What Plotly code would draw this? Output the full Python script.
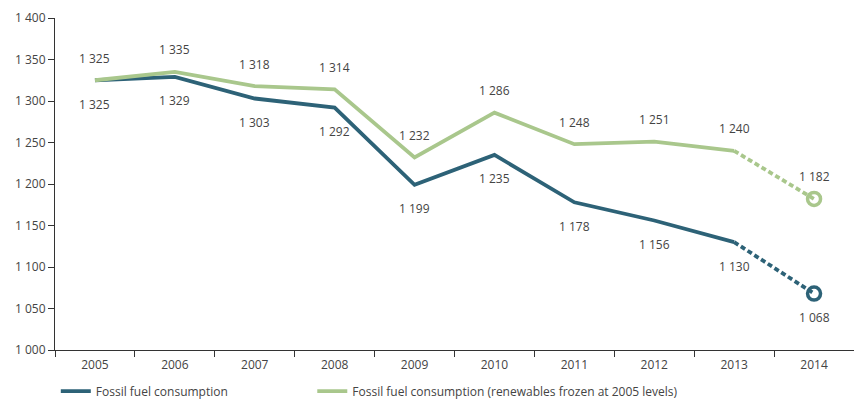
import plotly.graph_objects as go

# Fossil fuel consumption series (2014 values are estimates, drawn dashed)
years = ["2005", "2006", "2007", "2008", "2009", "2010", "2011", "2012", "2013", "2014"]
fossil = [1325, 1329, 1303, 1292, 1199, 1235, 1178, 1156, 1130, 1068]
fossil_frozen = [1325, 1335, 1318, 1314, 1232, 1286, 1248, 1251, 1240, 1182]
y_ticks = [1000, 1050, 1100, 1150, 1200, 1250, 1300, 1350, 1400]

DARK = "#2d6277"
GREEN = "#a9c78c"
TEXT = "#444444"
FONT = "Open Sans"
FS = 12


def fmt(v):
    return f"{v:,}".replace(",", " ")


fig = go.Figure()

series = [
    ("Fossil fuel consumption", fossil, DARK, -24, "legend"),
    ("Fossil fuel consumption (renewables frozen at 2005 levels)", fossil_frozen, GREEN, 22, "legend2"),
]

for name, vals, color, shift, leg in series:
    # Solid part up to 2013
    fig.add_trace(go.Scatter(
        x=years[:-1], y=vals[:-1], mode="lines", name=name, legend=leg,
        line=dict(color=color, width=3.8), hoverinfo="skip",
    ))
    # Dashed projection 2013 -> 2014
    fig.add_trace(go.Scatter(
        x=years[-2:], y=vals[-2:], mode="lines", showlegend=False,
        line=dict(color=color, width=3.8, dash="5px,3px"), hoverinfo="skip",
    ))
    # Open circle at 2014
    fig.add_trace(go.Scatter(
        x=years[-1:], y=vals[-1:], mode="markers", showlegend=False,
        marker=dict(symbol="circle-open", size=13, color=color, line=dict(width=3.5, color=color)),
        hoverinfo="skip",
    ))
    # Value labels (category axis positions are serial indices)
    for i, v in enumerate(vals):
        fig.add_annotation(
            x=i, y=v, xref="x", yref="y", text=fmt(v), showarrow=False, yshift=shift,
            font=dict(family=FONT, size=FS, color=TEXT),
        )

axis_common = dict(
    showline=True, linecolor="#333333", linewidth=1, showgrid=False, zeroline=False,
    ticks="outside", ticklen=6, tickcolor="#333333",
    tickfont=dict(family=FONT, size=FS, color=TEXT),
)

fig.update_xaxes(
    type="category", categoryorder="array", categoryarray=years,
    range=[-0.5, 9.5], tickson="boundaries", ticklabelstandoff=4, **axis_common,
)
fig.update_yaxes(
    range=[1000, 1400], tickvals=y_ticks, separatethousands=True, **axis_common,
)

legend_common = dict(
    orientation="h", xanchor="left", y=-0.08, yanchor="top",
    font=dict(family=FONT, size=FS, color=TEXT), bgcolor="rgba(0,0,0,0)",
)

fig.update_layout(
    width=854, height=399,
    margin=dict(l=55, r=0, t=18, b=49, autoexpand=False),
    paper_bgcolor="white", plot_bgcolor="white",
    separators=". ",
    font=dict(family=FONT, size=FS, color=TEXT),
    showlegend=True,
    legend=dict(x=0.001, **legend_common),
    legend2=dict(x=0.322, **legend_common),
)

fig.write_html("out.html")
